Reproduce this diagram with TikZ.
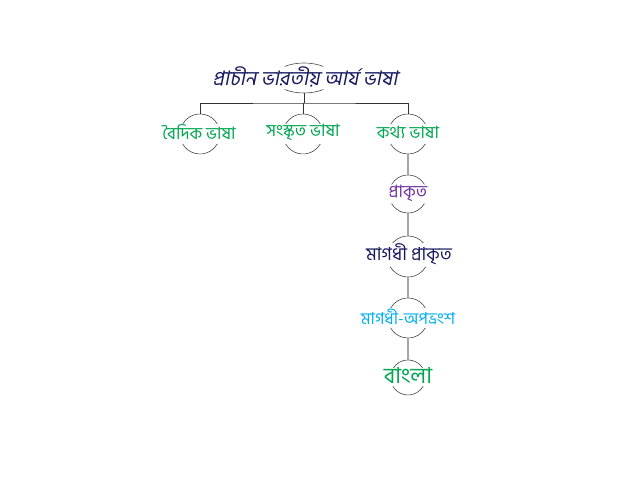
\documentclass[tikz,border=0pt]{standalone}
\usepackage{fontspec}
\newfontfamily\bn[Script=Bengali]{Hind Siliguri}
\newfontfamily\bnit[Script=Bengali,FakeSlant=0.2]{Hind Siliguri}
\definecolor{navy}{RGB}{24,24,96}
\definecolor{bgreen}{RGB}{0,166,81}
\definecolor{bpurple}{RGB}{112,48,160}
\definecolor{bcyan}{RGB}{0,176,240}
\definecolor{arcgray}{RGB}{70,70,70}
\definecolor{linegray}{RGB}{165,165,165}
\tikzset{
  lbl/.style={inner xsep=1pt, inner ysep=0pt, fill=white, font=\bn\fontsize{17pt}{20pt}\selectfont},
  ring/.style={circle, inner sep=0pt, minimum size=#1},
  arcline/.style={draw=arcgray, line width=0.6pt},
  tree/.style={draw=black!80, line width=0.7pt},
  chain/.style={draw=linegray, line width=1.2pt},
}
\begin{document}
\begin{tikzpicture}[x=1pt,y=1pt]
\useasboundingbox (0,0) rectangle (640,494);
% rings
\node[circle, inner sep=0pt, minimum size=30pt] (r0) at (304,416) {};
\node[ring=40pt] (r1) at (200,360) {};
\node[ring=40pt] (r2) at (303,360) {};
\node[ring=40pt] (r3) at (408,360) {};
\node[ring=38pt] (r4) at (408,300) {};
\node[ring=41pt] (r5) at (408,237.5) {};
\node[ring=40pt] (r6) at (408,176) {};
\node[ring=35pt] (r7) at (408,116.5) {};
% arcs
\draw[arcline] (r0.center) ++(50:30 and 15) arc (50:130:30 and 15);
\draw[arcline] (r0.center) ++(230:30 and 15) arc (230:310:30 and 15);
\foreach \n/\r in {r1/20,r2/20,r3/20,r4/19,r5/20.5,r6/20,r7/17.5}{
  \draw[arcline] (\n.center) ++(30:\r) arc (30:150:\r);
  \draw[arcline] (\n.center) ++(210:\r) arc (210:330:\r);
}
% labels
\node[lbl, font=\bnit\fontsize{20pt}{23pt}\selectfont, text=navy] (t0) at (305,417) {প্রাচীন ভারতীয় আর্য ভাষা};
\node[lbl, text=bgreen] (t1) at (199,362) {বৈদিক ভাষা};
\node[lbl, text=bgreen] (t2) at (303,362) {সংস্কৃত ভাষা};
\node[lbl, text=bgreen] (t3) at (408,362) {কথ্য ভাষা};
\node[lbl, text=bpurple] (t4) at (408,301) {প্রাকৃত};
\node[lbl, font=\bn\fontsize{18pt}{21pt}\selectfont, text=navy] (t5) at (409,240) {মাগধী প্রাকৃত};
\node[lbl, font=\bn\fontsize{16.5pt}{20pt}\selectfont, text=bcyan] (t6) at (408,177) {মাগধী-অপভ্রংশ};
\node[lbl, font=\bn\fontsize{22pt}{25pt}\selectfont, text=bgreen] (t7) at (408,118) {বাংলা};
% tree
\coordinate (j) at (304,391);
\draw[tree] (r0.south) -- (j);
\draw[tree] (r1.north) |- (j) -| (r3.north);
\draw[tree] (r2.north) -- (r2.north |- j);
\draw[chain] (r3.south) -- (r4.north);
\draw[chain] (r4.south) -- (r5.north);
\draw[chain] (r5.south) -- (r6.north);
\draw[chain] (r6.south) -- (r7.north);
\end{tikzpicture}
\end{document}
